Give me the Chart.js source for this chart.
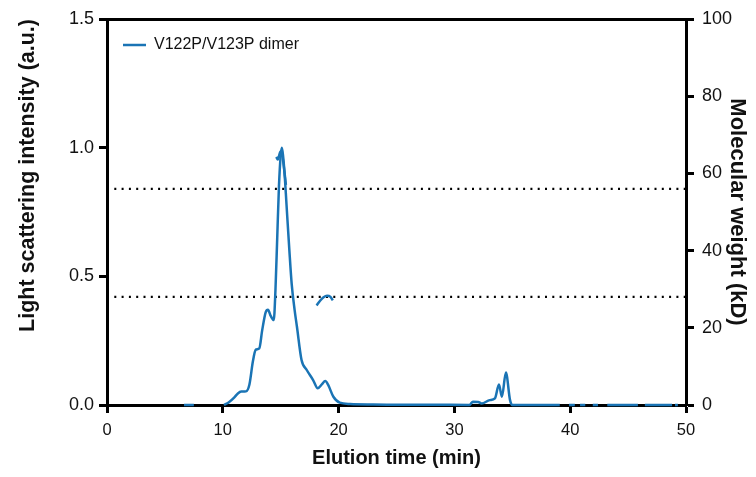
<!DOCTYPE html>
<html>
<head>
<meta charset="utf-8">
<script src="https://cdn.jsdelivr.net/npm/chart.js@4"></script>
<style>
  html, body { margin: 0; padding: 0; background: #fff; }
  canvas { display: block; }
</style>
</head>
<body>
<canvas id="secChart" width="756" height="477"></canvas>
<script>
// Light scattering trace (elution time in min, intensity in a.u.)
var lsTime = [6.65, 7.5, null,
    10.1, 10.5, 11.0, 11.3, 11.6, 12.0, 12.3, 12.6, 12.85, 13.15, 13.4, 13.7, 13.9,
    14.15, 14.4, 14.55, 14.7, 14.85, 15.0, 15.1, 15.2, 15.35, 15.5, 15.75, 15.95,
    16.2, 16.4, 16.8, 17.25, 17.8, 18.2, 18.55, 18.85, 19.1, 19.55, 20.1, 21, 23,
    25, 28, 31.3, 31.6, 32.05, 32.35, 33.05, 33.5, 33.85, 34.1, 34.45, 34.8, 35.0,
    39.1, null, 39.9, 40.4, null, 40.85, 41.3, null, 41.95, 42.4, null, 43.2, 45.85,
    null, 46.45, 48.8, null, 49.05, 49.3];
var lsValue = [0, 0, null,
    0, 0.01, 0.03, 0.045, 0.052, 0.053, 0.08, 0.17, 0.215, 0.22, 0.29, 0.36, 0.37,
    0.345, 0.33, 0.45, 0.65, 0.85, 0.97, 1.0, 0.97, 0.89, 0.78, 0.6, 0.47,
    0.37, 0.305, 0.175, 0.136, 0.097, 0.065, 0.08, 0.093, 0.078, 0.032, 0.009, 0.004, 0.002,
    0.001, 0.001, 0, 0.013, 0.012, 0.006, 0.019, 0.026, 0.08, 0.032, 0.126, 0.02, 0,
    0, null, 0, 0, null, 0, 0, null, 0, 0, null, 0, 0,
    null, 0, 0, null, 0, 0];

// Molecular weight across the two peaks (kD)
var mwTime1 = [14.62, 14.75, 14.95, 15.05, 15.3, 15.45];
var mwValue1 = [64.3, 63.6, 65.5, 65.8, 61.0, 57.0];
var mwTime2 = [18.1, 18.4, 18.7, 19.0, 19.3, 19.5];
var mwValue2 = [25.8, 27.0, 27.9, 28.3, 28.0, 27.1];

// Reference levels (kD): dimer and monomer
var refLevels = [56, 28];

var xTicks = [0, 10, 20, 30, 40, 50];

var BLUE = "#1a74b5";
var FONT = "'Liberation Sans', Arial, sans-serif";

function toPoints(xs, ys) {
    return xs.map(function (x, i) {
        return { x: x === null ? NaN : x, y: ys[i] };
    });
}

var datasets = [
    {
        label: "V122P/V123P dimer",
        data: toPoints(lsTime, lsValue),
        yAxisID: "y",
        borderColor: BLUE,
        backgroundColor: BLUE,
        borderWidth: 2.5,
        pointRadius: 0,
        cubicInterpolationMode: "monotone",
        spanGaps: false,
        clip: false,
    },
    {
        label: "mw1",
        data: toPoints(mwTime1, mwValue1),
        yAxisID: "y2",
        borderColor: BLUE,
        borderWidth: 2.5,
        pointRadius: 0,
        cubicInterpolationMode: "monotone",
        clip: false,
    },
    {
        label: "mw2",
        data: toPoints(mwTime2, mwValue2),
        yAxisID: "y2",
        borderColor: BLUE,
        borderWidth: 2.5,
        pointRadius: 0,
        cubicInterpolationMode: "monotone",
        clip: false,
    },
];
refLevels.forEach(function (lvl) {
    datasets.push({
        label: "ref" + lvl,
        data: [{ x: xTicks[0], y: lvl }, { x: xTicks[xTicks.length - 1], y: lvl }],
        yAxisID: "y2",
        borderColor: "#000",
        borderWidth: 2.2,
        borderDash: [2, 5.3],
        pointRadius: 0,
        tension: 0,
    });
});

function tickStyle() {
    return {
        display: true,
        drawOnChartArea: false,
        drawTicks: true,
        tickLength: 8,
        tickWidth: 3,
        tickColor: "#000",
    };
}

new Chart(document.getElementById("secChart"), {
    type: "line",
    data: { datasets: datasets },
    options: {
        responsive: false,
        animation: false,
        layout: { padding: 0 },
        plugins: {
            tooltip: { enabled: false },
            legend: {
                position: "chartArea",
                align: "start",
                title: {
                    display: true,
                    text: " ",
                    font: { family: FONT, size: 10 },
                    padding: { top: 9, bottom: 0 },
                },
                labels: {
                    usePointStyle: true,
                    pointStyle: "line",
                    pointStyleWidth: 23,
                    padding: 16,
                    color: "#111",
                    font: { family: FONT, size: 16 },
                    filter: function (item) {
                        return item.datasetIndex === 0;
                    },
                },
            },
        },
        scales: {
            x: {
                type: "linear",
                position: "bottom",
                min: 0,
                max: 50,
                afterBuildTicks: function (s) {
                    s.ticks = xTicks.map(function (v) { return { value: v }; });
                },
                ticks: { color: "#111", padding: 8, font: { family: FONT, size: 16.5 } },
                grid: tickStyle(),
                border: { display: true, color: "#000", width: 3 },
                title: {
                    display: true,
                    text: "Elution time (min)",
                    color: "#111",
                    font: { family: FONT, size: 20, weight: "bold" },
                    padding: { top: 0, bottom: 7 },
                },
                afterFit: function (s) { s.height = 72; },
            },
            xTop: {
                type: "linear",
                position: "top",
                min: 0,
                max: 50,
                ticks: { display: false },
                grid: { display: false },
                border: { display: true, color: "#000", width: 3 },
                afterFit: function (s) { s.height = 19; },
            },
            y: {
                type: "linear",
                position: "left",
                min: 0,
                max: 1.5,
                ticks: {
                    stepSize: 0.5,
                    color: "#111",
                    padding: 5,
                    font: { family: FONT, size: 18 },
                    callback: function (v) { return v.toFixed(1); },
                },
                grid: tickStyle(),
                border: { display: true, color: "#000", width: 3 },
                title: {
                    display: true,
                    align: "end",
                    text: "Light scattering intensity (a.u.)",
                    color: "#111",
                    font: { family: FONT, size: 21.5, weight: "bold" },
                    padding: { top: 15, bottom: 0 },
                },
                afterFit: function (s) { s.width = 107; },
            },
            y2: {
                type: "linear",
                position: "right",
                min: 0,
                max: 100,
                ticks: {
                    stepSize: 20,
                    color: "#111",
                    padding: 8,
                    font: { family: FONT, size: 18 },
                },
                grid: tickStyle(),
                border: { display: true, color: "#000", width: 3 },
                title: {
                    display: true,
                    text: "Molecular weight (kD)",
                    color: "#111",
                    font: { family: FONT, size: 22, weight: "bold" },
                    padding: { top: 6, bottom: 0 },
                },
                afterFit: function (s) { s.width = 70; },
            },
        },
    },
});
</script>
</body>
</html>
